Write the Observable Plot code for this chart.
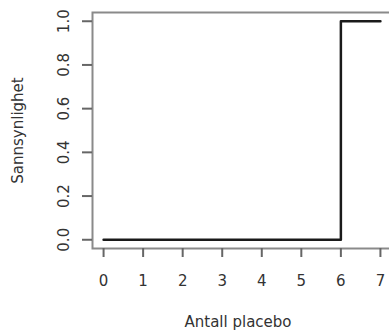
<!DOCTYPE html>
<html><head><meta charset="utf-8">
<script src="https://cdn.jsdelivr.net/npm/d3@7"></script>
<script src="https://cdn.jsdelivr.net/npm/@observablehq/plot@0.6"></script>
<style>body{margin:0;background:#fff} svg{display:block}</style>
</head><body><div id="chart"></div>
<script>
const antall = [0, 1, 2, 3, 4, 5, 6, 7];
const sannsynlighet = [0, 0, 0, 0, 0, 0, 1, 1];
const xTicks = [0, 1, 2, 3, 4, 5, 6, 7];
const yTicks = [0, 0.2, 0.4, 0.6, 0.8, 1.0];
const xTitle = "Antall placebo";
const yTitle = "Sannsynlighet";

const data = antall.map((a, i) => ({x: a, y: sannsynlighet[i]}));

const plot = Plot.plot({
  width: 389, height: 332,
  marginLeft: 92, marginRight: -2, marginTop: 12, marginBottom: 84,
  style: {fontFamily: "DejaVu Sans", fontSize: "15px", color: "#333", background: "#fff", overflow: "hidden"},
  x: {domain: [-0.28, 7.28]},
  y: {domain: [-0.04, 1.04]},
  marks: [
    Plot.frame({stroke: "#8a8a8a", strokeWidth: 2}),
    Plot.axisX({ticks: xTicks, tickSize: 9, tickPadding: 18, tickFormat: d => String(d), label: null, stroke: "#666", strokeWidth: 2, fill: "#333"}),
    Plot.axisY({ticks: yTicks, tickSize: 10, tickPadding: 14, tickFormat: d3.format(".1f"), tickRotate: -90, textAnchor: "middle", lineAnchor: "bottom", label: null, stroke: "#666", strokeWidth: 2, fill: "#333"}),
    Plot.line(data, {x: "x", y: "y", curve: "step-after", stroke: "#1a1a1a", strokeWidth: 2.5}),
    Plot.text([xTitle], {text: d => d, frameAnchor: "bottom", dy: 78, dx: -4, textAnchor: "middle", lineAnchor: "bottom", fill: "#333"}),
    Plot.text([yTitle], {text: d => d, frameAnchor: "left", rotate: -90, dx: -70, textAnchor: "middle", lineAnchor: "bottom", fill: "#333"})
  ]
});
document.getElementById("chart").appendChild(plot);
</script>
</body></html>
